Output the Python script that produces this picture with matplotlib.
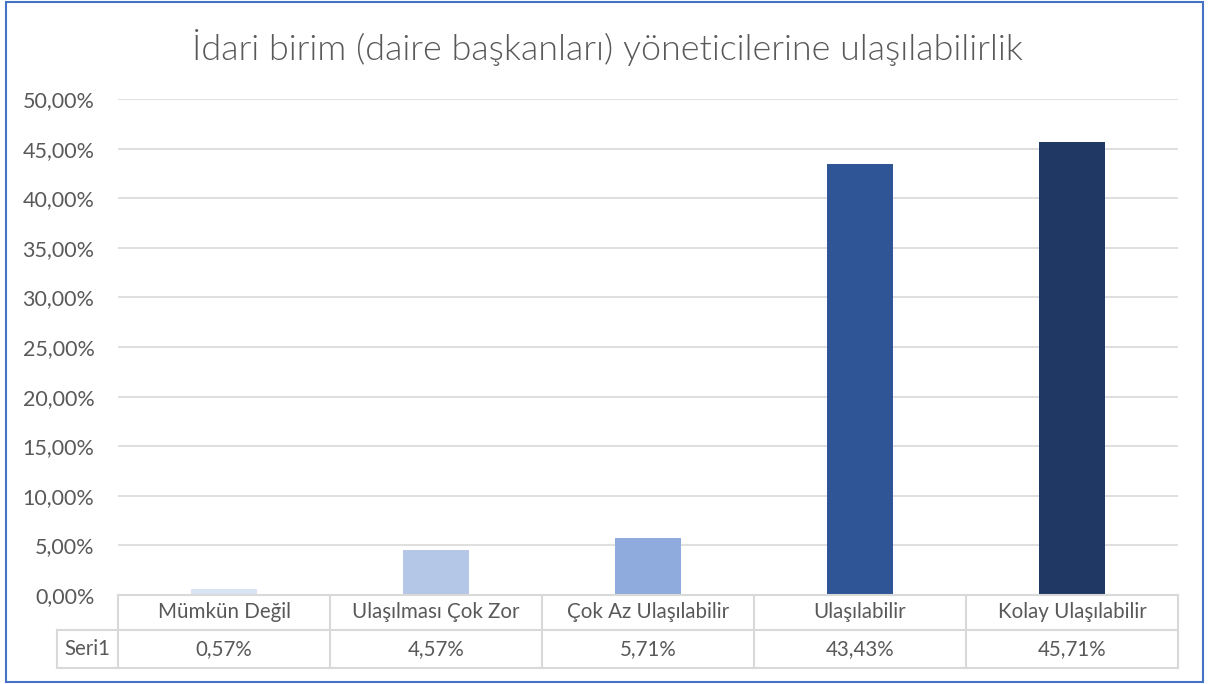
import matplotlib.pyplot as plt
import matplotlib.patches as patches
from matplotlib.lines import Line2D
import numpy as np

plt.rcParams['font.family'] = ['Lato', 'DejaVu Sans']

categories = ["Mümkün Değil", "Ulaşılması Çok Zor", "Çok Az Ulaşılabilir", "Ulaşılabilir", "Kolay Ulaşılabilir"]
values = [0.0057, 0.0457, 0.0571, 0.4343, 0.4571]
series_name = "Seri1"
colors = ["#DAE3F3", "#B4C7E7", "#8FAADC", "#2F5597", "#203864"]
title = "İdari birim (daire başkanları) yöneticilerine ulaşılabilirlik"

W, H = 1208, 684
fig = plt.figure(figsize=(W / 100, H / 100), dpi=100)

# plot area in pixels
left, right, top, bottom = 118, 1178, 99, 595
ax = fig.add_axes([left / W, 1 - bottom / H, (right - left) / W, (bottom - top) / H])

x = np.arange(len(categories))
ax.bar(x, values, width=0.316, color=colors, zorder=3)
ax.set_xlim(-0.5, len(categories) - 0.5)
ax.set_ylim(0, 0.5)
yt = np.arange(0, 0.501, 0.05)
ax.set_yticks(yt)
ax.set_yticklabels([f"{v*100:.2f}%".replace(".", ",") for v in yt], color="#595959", fontsize=15.5)
ax.tick_params(axis="y", length=0, pad=17)
ax.set_xticks([])
ax.grid(axis="y", color="#D9D9D9", lw=1.2, zorder=0)
for s in ax.spines.values():
    s.set_visible(False)

# data table under the plot
gray = "#D9D9D9"
txt = "#595959"
row1_top, row1_bot, row2_bot = 595, 630, 668
label_left = 57
col_w = (right - left) / len(categories)
fs = 14.8

def fx(px):
    return px / W

def fy(py):
    return 1 - py / H

def hline(x0, x1, y):
    fig.add_artist(Line2D([fx(x0), fx(x1)], [fy(y), fy(y)], color=gray, lw=1.5))

def vline(xp, y0, y1):
    fig.add_artist(Line2D([fx(xp), fx(xp)], [fy(y0), fy(y1)], color=gray, lw=1.5))

hline(left, right, row1_top)
hline(label_left, right, row1_bot)
hline(label_left, right, row2_bot)
vline(label_left, row1_bot, row2_bot)
for i in range(len(categories) + 1):
    vline(left + i * col_w, row1_top, row2_bot)

for i, (c, v) in enumerate(zip(categories, values)):
    cx = left + (i + 0.5) * col_w
    fig.text(fx(cx), fy((row1_top + row1_bot) / 2), c, ha="center", va="center", fontsize=fs, color=txt)
    fig.text(fx(cx), fy((row1_bot + row2_bot) / 2), f"{v*100:.2f}%".replace(".", ","),
             ha="center", va="center", fontsize=fs, color=txt)
fig.text(fx((label_left + left) / 2), fy((row1_bot + row2_bot) / 2), series_name,
         ha="center", va="center", fontsize=fs, color=txt)

fig.text(0.5025, fy(48), title, ha="center", va="center", fontsize=25.8, color=txt, fontweight=300)

# outer chart border
fig.add_artist(patches.Rectangle((fx(6), fy(682)), fx(1197), (680) / H, fill=False,
                                 edgecolor="#4472C4", lw=1.5))

fig.savefig("out.png", dpi=100)
